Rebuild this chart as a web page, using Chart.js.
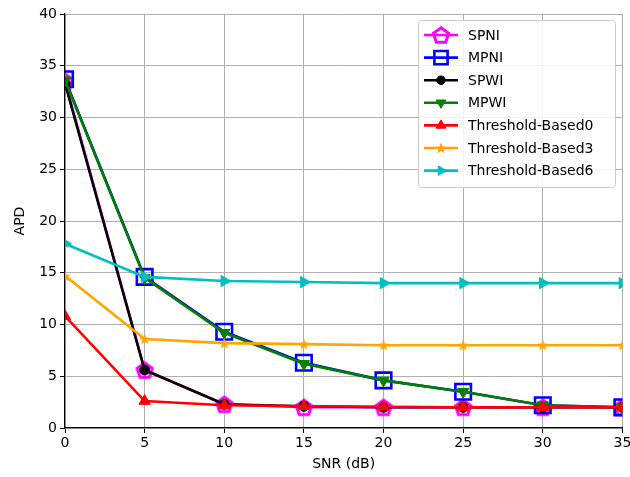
<!DOCTYPE html>
<html>
<head>
<meta charset="utf-8">
<script src="https://cdn.jsdelivr.net/npm/chart.js@4"></script>
<style>
  html, body { margin: 0; padding: 0; background: #fff; overflow: hidden; }
  #wrap { width: 630px; height: 477px; overflow: hidden; }
</style>
</head>
<body>
<div id="wrap"><canvas id="apdChart" width="636" height="477"></canvas></div>
<script>
const snr = [0, 5, 10, 15, 20, 25, 30, 35];
const spni = [33.5, 5.6, 2.3, 2.0, 2.0, 2.0, 2.0, 2.0];
const mpni = [33.7, 14.6, 9.3, 6.3, 4.6, 3.5, 2.2, 2.0];
const spwi = [33.3, 5.6, 2.3, 2.1, 2.0, 2.0, 2.0, 2.0];
const mpwi = [33.6, 14.5, 9.2, 6.2, 4.6, 3.5, 2.2, 2.0];
const thr0 = [10.8, 2.6, 2.2, 2.1, 2.05, 2.0, 2.0, 2.0];
const thr3 = [14.7, 8.6, 8.2, 8.1, 8.0, 8.0, 8.0, 8.0];
const thr6 = [17.8, 14.6, 14.2, 14.1, 14.0, 14.0, 14.0, 14.0];
const yTicks = [0, 5, 10, 15, 20, 25, 30, 35, 40];

Chart.defaults.font.family = "'DejaVu Sans', sans-serif";
Chart.defaults.font.size = 14;
Chart.defaults.color = "#000";

// pentagon (hollow) and filled star markers
function pentagon(color) {
    const c = document.createElement('canvas');
    c.width = 22; c.height = 22;
    const g = c.getContext('2d');
    g.beginPath();
    for (let i = 0; i < 5; i++) {
        const a = -Math.PI / 2 + i * 2 * Math.PI / 5;
        const px = 11 + 8 * Math.cos(a), py = 11.8 + 8 * Math.sin(a);
        i ? g.lineTo(px, py) : g.moveTo(px, py);
    }
    g.closePath();
    g.strokeStyle = color;
    g.lineWidth = 3;
    g.stroke();
    return c;
}
function star(color) {
    const c = document.createElement('canvas');
    c.width = 14; c.height = 14;
    const g = c.getContext('2d');
    g.beginPath();
    for (let i = 0; i < 10; i++) {
        const r = i % 2 ? 2.6 : 6;
        const a = -Math.PI / 2 + i * Math.PI / 5;
        const px = 7 + r * Math.cos(a), py = 7.5 + r * Math.sin(a);
        i ? g.lineTo(px, py) : g.moveTo(px, py);
    }
    g.closePath();
    g.fillStyle = color;
    g.fill();
    return c;
}

const pts = arr => arr.map((v, i) => ({x: snr[i], y: v}));

function series(label, arr, color, style, extra) {
    return Object.assign({
        label: label,
        data: pts(arr),
        borderColor: color,
        backgroundColor: color,
        borderWidth: 2.6,
        pointStyle: style,
        pointBorderColor: color,
        pointBackgroundColor: color,
        pointBorderWidth: 1,
        pointRadius: 6,
        tension: 0
    }, extra || {});
}

const datasets = [
    series('SPNI', spni, '#ff00ff', pentagon('#ff00ff'), {order: 7}),
    series('MPNI', mpni, '#0000ff', 'rect', {order: 6, pointRadius: 11, pointBorderWidth: 2.6, pointBackgroundColor: 'rgba(0,0,0,0)'}),
    series('SPWI', spwi, '#000000', 'circle', {order: 5, pointRadius: 5}),
    series('MPWI', mpwi, '#008000', 'triangle', {order: 4, pointRotation: 180, pointRadius: 6.5}),
    series('Threshold-Based0', thr0, '#ff0000', 'triangle', {order: 3, pointRadius: 6.5}),
    series('Threshold-Based3', thr3, '#ffa500', star('#ffa500'), {order: 2}),
    series('Threshold-Based6', thr6, '#00bfbf', 'triangle', {order: 1, pointRotation: 90, pointRadius: 6.5})
];

// legend drawn inside the plot, top right
const innerLegend = {
    id: 'innerLegend',
    afterDraw(chart) {
        const ctx = chart.ctx;
        const bx = 418, by = 20, bw = 197, bh = 167;
        ctx.save();
        ctx.fillStyle = 'rgba(255,255,255,0.85)';
        ctx.strokeStyle = '#cccccc';
        ctx.lineWidth = 1;
        ctx.beginPath();
        ctx.roundRect(bx + 0.5, by + 0.5, bw, bh, 3);
        ctx.fill();
        ctx.stroke();
        chart.data.datasets.forEach((ds, i) => {
            const y = by + 15 + i * 22.6;
            ctx.strokeStyle = ds.borderColor;
            ctx.lineWidth = ds.borderWidth;
            ctx.beginPath();
            ctx.moveTo(424, y);
            ctx.lineTo(458, y);
            ctx.stroke();
            ctx.fillStyle = ds.pointBackgroundColor;
            ctx.strokeStyle = ds.pointBorderColor;
            ctx.lineWidth = ds.pointBorderWidth;
            Chart.helpers.drawPoint(ctx, {
                pointStyle: ds.pointStyle,
                rotation: ds.pointRotation || 0,
                radius: ds.pointRadius * 0.85,
                borderWidth: ds.pointBorderWidth
            }, 441, y);
            ctx.fillStyle = '#000';
            ctx.font = "14px 'DejaVu Sans', sans-serif";
            ctx.textBaseline = 'middle';
            ctx.fillText(ds.label, 468, y + 1);
        });
        ctx.restore();
    }
};

new Chart(document.getElementById('apdChart'), {
    type: 'line',
    data: { datasets: datasets },
    plugins: [innerLegend],
    options: {
        responsive: false,
        animation: false,
        layout: { padding: { top: 14, right: 2, left: 0, bottom: 0 } },
        plugins: { legend: { display: false }, tooltip: { enabled: false } },
        scales: {
            x: {
                type: 'linear', min: 0, max: 35,
                afterBuildTicks: s => { s.ticks = snr.map(v => ({value: v})); },
                afterFit: s => { s.height = 49; },
                title: { display: true, text: 'SNR (dB)', padding: { top: 1 } },
                grid: { color: '#b0b0b0', lineWidth: 1, tickLength: 5, tickColor: '#000' },
                border: { color: '#000', width: 1.2 },
                ticks: { padding: 2, maxRotation: 0 }
            },
            y: {
                min: 0, max: 40,
                afterBuildTicks: s => { s.ticks = yTicks.map(v => ({value: v})); },
                afterFit: s => { s.width = 65; },
                title: { display: true, text: 'APD', padding: { top: 12, bottom: 6 } },
                grid: { color: '#b0b0b0', lineWidth: 1, tickLength: 5, tickColor: '#000' },
                border: { color: '#000', width: 1.2 },
                ticks: { padding: 3 }
            }
        }
    }
});
</script>
</body>
</html>
